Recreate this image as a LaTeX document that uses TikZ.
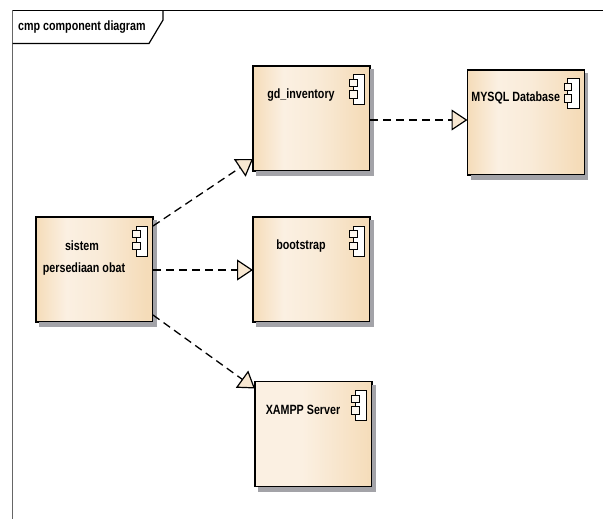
\documentclass[tikz,border=0pt]{standalone}
\usepackage{fontspec}
\setmainfont[FakeStretch=0.8]{Liberation Sans}
\usetikzlibrary{arrows.meta,calc}
\definecolor{cream}{HTML}{F8E8D2}
\definecolor{shadowgrey}{HTML}{A3A3A8}
\definecolor{tandark}{HTML}{F5DCB9}
\definecolor{tanlight}{HTML}{FBF0E2}
\definecolor{tanmid}{HTML}{F9EBD8}
\pgfdeclarehorizontalshading{compshade}{100bp}{
  color(0bp)=(tandark);
  color(25bp)=(tandark);
  color(38bp)=(tanlight);
  color(52bp)=(tanmid);
  color(72bp)=(tandark);
  color(100bp)=(tandark)}
\pgfdeclarehorizontalshading{compshadeb}{100bp}{
  color(0bp)=(tanlight);
  color(45bp)=(tanlight);
  color(75bp)=(tandark);
  color(100bp)=(tandark)}
\tikzset{
  x=1pt,y=-1pt,
  comp/.style={draw=black,line width=1.1pt,minimum width=117pt,minimum height=105pt,inner sep=0pt,outer sep=0pt,shading=compshade},
  compb/.style={comp,shading=compshadeb},
  shadowbox/.style={fill=shadowgrey,draw=none},
  lbl/.style={font=\bfseries\fontsize{13.4}{15}\selectfont,text=black,inner sep=0pt},
  dep/.style={draw=black,line width=1.3pt,dash pattern=on 8pt off 5pt,
    -{Triangle[open,length=16pt,width=21pt,fill=cream,line width=1.2pt]}},
  iconbig/.style={draw=black,line width=1pt,fill=white},
  iconsmall/.style={draw=black,line width=1pt,fill=white!60!cream},
}
\newcommand{\compicon}[1]{%
  \fill[shadowbox] ($(#1.south west)+(3,0)$) rectangle ($(#1.south east)+(3.5,5)$);
  \fill[shadowbox] ($(#1.north east)+(0,3)$) rectangle ($(#1.south east)+(3.5,5)$);
  \draw[iconbig] ($(#1.north east)+(-17,9)$) rectangle ($(#1.north east)+(-5.5,39)$);
  \draw[iconsmall] ($(#1.north east)+(-20.5,13.5)$) rectangle ($(#1.north east)+(-13,20.5)$);
  \draw[iconsmall] ($(#1.north east)+(-20.5,25)$) rectangle ($(#1.north east)+(-13,32.5)$);
}
\begin{document}
\begin{tikzpicture}
\useasboundingbox (0,0) rectangle (603,519);
\fill[white] (0,0) rectangle (603,519);
% frame
\coordinate (ftl) at (12.5,10.5);
\coordinate (ftr) at (603,10.5);
\coordinate (fbl) at (12.5,519);
\draw[draw=black!60,line width=1.2pt] (ftl) -- (fbl);
\draw[black,line width=1.2pt] (ftl) -- (ftr);
\draw[black,line width=1.2pt] (12.5,43.5) -- (149,43.5) -- (163,20) -- (163,10.5);
\node[lbl,anchor=west] (title) at (18,27.5) {cmp component diagram};
% boxes
\node[comp] (gd) at (311.5,118.5) {};
\node[comp] (mysql) at (526,122.5) {};
\node[comp] (sistem) at (94.5,269.5) {};
\node[comp] (boot) at (311.5,269.5) {};
\node[compb] (xampp) at (313.5,434) {};
\compicon{gd}\compicon{mysql}\compicon{sistem}\compicon{boot}\compicon{xampp}
% labels
\node[lbl] (lgd) at (301,95) {gd\_inventory};
\node[lbl] (lmy) at (515.7,98) {MYSQL Database};
\node[lbl] (ls1) at (82,246) {sistem};
\node[lbl] (ls2) at (84,269) {persediaan obat};
\node[lbl] (lbo) at (301,246) {bootstrap};
\node[lbl] (lxa) at (303,410) {XAMPP Server};
% connectors
\draw[dep] ($(sistem.north east)+(0,9)$) -- ($(gd.south west)+(0,-12)$);
\draw[dep] ($(sistem.east)+(0,.5)$) -- ($(boot.west)+(0,.5)$);
\draw[dep] ($(sistem.south east)+(0,-7)$) -- ($(xampp.north west)+(0,7)$);
\draw[dep] ($(gd.east)+(0,1.5)$) -- ($(mysql.west)+(0,-2.5)$);
\end{tikzpicture}
\end{document}
